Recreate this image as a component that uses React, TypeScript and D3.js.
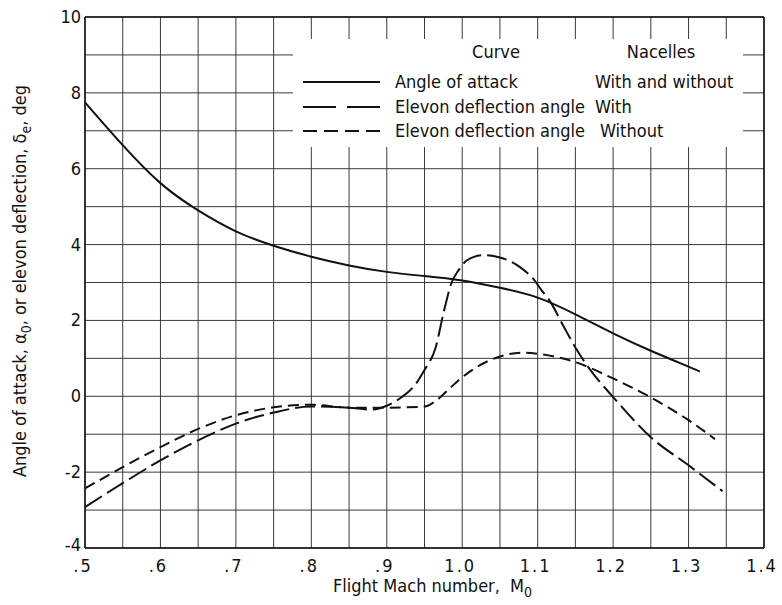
import React from "react";
import * as d3 from "d3";

// Angle of attack (solid), both nacelle configurations
const alphaMach = [0.5, 0.55, 0.6, 0.65, 0.7, 0.75, 0.8, 0.85, 0.9, 0.95, 1.0, 1.05, 1.1, 1.15, 1.2, 1.25, 1.3, 1.315];
const alphaDeg = [7.75, 6.62, 5.62, 4.9, 4.35, 3.97, 3.68, 3.45, 3.28, 3.17, 3.05, 2.86, 2.6, 2.16, 1.66, 1.2, 0.78, 0.65];

// Elevon deflection, with nacelles (long dash)
const withMach = [0.5, 0.55, 0.6, 0.65, 0.7, 0.75, 0.8, 0.85, 0.88, 0.9, 0.92, 0.935, 0.95, 0.965, 0.975, 0.986, 0.995, 1.006, 1.028, 1.05, 1.077, 1.094, 1.105, 1.115, 1.135, 1.152, 1.17, 1.2, 1.25, 1.3, 1.345];
const withDeg = [-2.92, -2.29, -1.69, -1.16, -0.72, -0.43, -0.27, -0.3, -0.35, -0.25, -0.02, 0.24, 0.69, 1.3, 2.18, 3.0, 3.32, 3.58, 3.72, 3.66, 3.4, 3.1, 2.8, 2.55, 1.82, 1.22, 0.69, -0.02, -1.08, -1.82, -2.5];

// Elevon deflection, without nacelles (short dash)
const withoutMach = [0.5, 0.55, 0.6, 0.65, 0.7, 0.75, 0.8, 0.85, 0.9, 0.95, 0.965, 0.985, 1.0, 1.05, 1.08, 1.1, 1.15, 1.2, 1.25, 1.3, 1.335];
const withoutDeg = [-2.43, -1.87, -1.34, -0.86, -0.5, -0.29, -0.22, -0.3, -0.3, -0.27, -0.12, 0.24, 0.5, 1.05, 1.15, 1.12, 0.9, 0.47, -0.03, -0.63, -1.13];

const xTickValues = [0.5, 0.6, 0.7, 0.8, 0.9, 1.0, 1.1, 1.2, 1.3, 1.4];
const xTickLabels = [".5", ".6", ".7", ".8", ".9", "1.0", "1.1", "1.2", "1.3", "1.4"];
const yTickValues = [-4, -2, 0, 2, 4, 6, 8, 10];

const FONT = "'Liberation Sans Narrow', 'DejaVu Sans Condensed', 'Liberation Sans', sans-serif";

const W = 782;
const H = 605;
const left = 85;
const right = 764;
const top = 17;
const bottom = 548;

export default function App() {
  const x = d3.scaleLinear().domain([0.5, 1.4]).range([left, right]);
  const y = d3.scaleLinear().domain([-4, 10]).range([bottom, top]);

  const makeLine = (curve: d3.CurveFactory) =>
    d3
      .line<[number, number]>()
      .x((d) => x(d[0]))
      .y((d) => y(d[1]))
      .curve(curve);

  const smooth = makeLine(d3.curveNatural);
  const monotone = makeLine(d3.curveMonotoneX);

  const zip = (a: number[], b: number[]) => a.map((v, i) => [v, b[i]] as [number, number]);

  const vGrid = d3.range(0, 19).map((i) => 0.5 + i * 0.05);
  const hGrid = d3.range(-4, 11);

  // legend panel (blanked region of the grid)
  const lg = { x0: 293, x1: 743, y0: 39, y1: 147 };

  return (
    <svg width={W} height={H} style={{ position: "absolute", left: 0, top: 0, background: "#fff" }}>
      <rect x={0} y={0} width={W} height={H} fill="#fff" />
      {/* grid */}
      <g stroke="#3a3a3a" strokeWidth={1}>
        {vGrid.map((m, i) => (
          <line key={"v" + i} x1={x(m)} x2={x(m)} y1={top} y2={bottom} />
        ))}
        {hGrid.map((v) => (
          <line key={"h" + v} x1={left} x2={right} y1={y(v)} y2={y(v)} />
        ))}
      </g>
      <rect x={lg.x0} y={lg.y0} width={lg.x1 - lg.x0} height={lg.y1 - lg.y0} fill="#fff" />
      {/* frame */}
      <g stroke="#111" strokeWidth={1.5} fill="none">
        <line x1={left} x2={left} y1={top} y2={bottom} />
        <line x1={right} x2={right} y1={top} y2={bottom} />
        <line x1={left} x2={right} y1={top} y2={top} />
        <line x1={left} x2={right} y1={bottom} y2={bottom} />
      </g>

      {/* curves */}
      <g fill="none" stroke="#111" strokeWidth={2}>
        <path d={smooth(zip(alphaMach, alphaDeg)) || ""} />
        <path d={monotone(zip(withMach, withDeg)) || ""} strokeDasharray="20 6" />
        <path d={monotone(zip(withoutMach, withoutDeg)) || ""} strokeDasharray="11 6" />
      </g>

      {/* legend */}
      <g fontFamily={FONT} fontSize={18} fill="#111">
        <text x={496} y={58} textAnchor="middle">Curve</text>
        <text x={661} y={58} textAnchor="middle">Nacelles</text>
        <line x1={303} x2={380} y1={82} y2={82} stroke="#111" strokeWidth={1.8} />
        <text x={395} y={88}>Angle of attack</text>
        <text x={595} y={88}>With and without</text>
        <line x1={303} x2={380} y1={107} y2={107} stroke="#111" strokeWidth={1.8} strokeDasharray="33 11" />
        <text x={395} y={113}>Elevon deflection angle</text>
        <text x={595} y={113}>With</text>
        <line x1={303} x2={380} y1={131} y2={131} stroke="#111" strokeWidth={1.8} strokeDasharray="14 7" />
        <text x={395} y={137}>Elevon deflection angle</text>
        <text x={600} y={137}>Without</text>
      </g>

      {/* y tick labels */}
      <g fontFamily={FONT} fontSize={18} fill="#111" textAnchor="end">
        {yTickValues.map((v) => (
          <text key={v} x={81} y={y(v) + (v === -4 ? 3 : 6)}>{v}</text>
        ))}
      </g>
      {/* x tick labels */}
      <g fontFamily={FONT} fontSize={18} fill="#111" textAnchor="middle">
        {xTickValues.map((m, i) => (
          <text key={m} x={x(m) - 2} y={572} letterSpacing={2}>{xTickLabels[i]}</text>
        ))}
      </g>

      {/* axis titles */}
      <text x={333} y={592} fontFamily={FONT} fontSize={18} fill="#111">
        Flight Mach number,
        <tspan dx={10}>M</tspan>
        <tspan fontSize={14} dy={5}>0</tspan>
      </text>
      <text
        transform={`translate(26, 281) rotate(-90)`}
        fontFamily={FONT}
        fontSize={18}
        fill="#111"
        textAnchor="middle"
      >
        Angle of attack, α<tspan fontSize={14} dy={5}>0</tspan>
        <tspan dy={-5}>, or elevon deflection, δ</tspan>
        <tspan fontSize={14} dy={5}>e</tspan>
        <tspan dy={-5}>, deg</tspan>
      </text>
    </svg>
  );
}
